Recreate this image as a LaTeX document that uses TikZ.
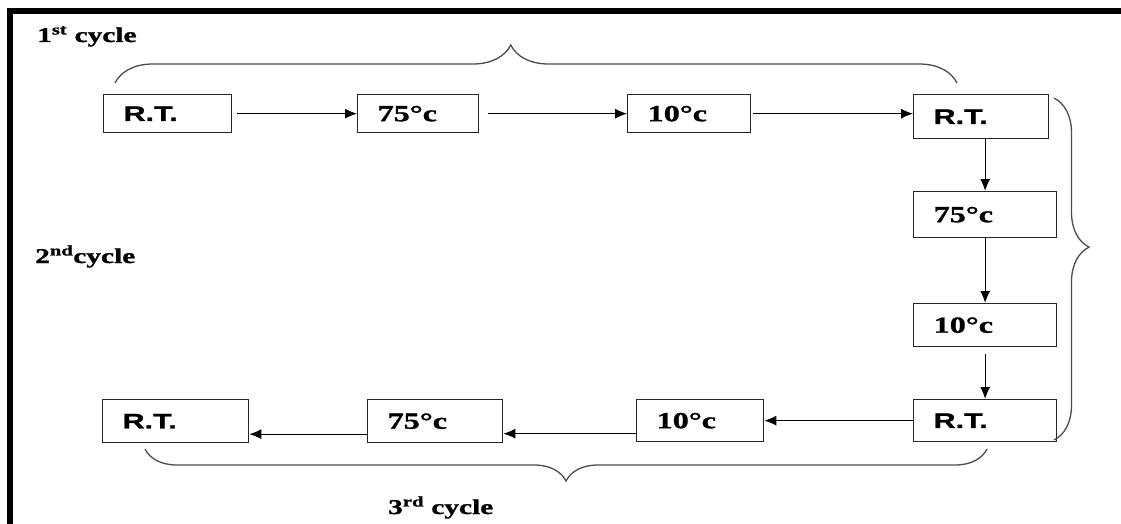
\documentclass[tikz,border=0pt]{standalone}
\usepackage{fontspec}
\setmainfont{Liberation Serif}[FakeStretch=1.4, BoldFeatures={FakeBold=1.2}]
\newfontfamily\rtfont{Liberation Sans}[FakeStretch=1.45, BoldFeatures={FakeBold=1.2}]
\usepackage{tikz}
\usetikzlibrary{arrows.meta,decorations.pathreplacing}
\newcommand\RT{R.T.}
\newcommand\hotT{75°c}
\newcommand\coldT{10°c}

\begin{document}
\begin{tikzpicture}[x=1pt, y=-1pt,
    stepbox/.style={draw=black!85, line width=1.3pt, anchor=north west,
      inner xsep=20pt, inner ysep=0pt, align=left,
      font=\fontsize{23}{26}\selectfont\bfseries},
    rtbox/.style={stepbox, font=\rtfont\fontsize{21}{24}\selectfont\bfseries},
    cyclelabel/.style={anchor=base west, inner sep=0pt,
      font=\fontsize{21}{24}\selectfont\bfseries},
    bracket/.style={decorate, draw=black!70, line width=1.3pt}]
    \useasboundingbox (0,0) rectangle (1121,524);
    \draw[line width=6pt] (10,524) -- (10,11) -- (1121,11);
    % first cycle
    \node[rtbox, text width=88pt, minimum height=38pt] (rt1) at (103,94) {\RT};
    \node[stepbox, text width=81pt, minimum height=38pt] (hot1) at (357,94) {\hotT};
    \node[stepbox, text width=83pt, minimum height=38pt] (cold1) at (627,94) {\coldT};
    \node[rtbox, text width=95pt, minimum height=44pt] (rt2) at (913,94) {\RT};
    % second cycle
    \node[stepbox, text width=103pt, minimum height=46pt] (hot2) at (913,191) {\hotT};
    \node[stepbox, text width=103pt, minimum height=43pt] (cold2) at (913,303) {\coldT};
    \node[rtbox, text width=103pt, minimum height=42pt] (rt3) at (913,399) {\RT};
    % third cycle
    \node[stepbox, text width=87pt, minimum height=42pt] (cold3) at (636,399) {\coldT};
    \node[stepbox, text width=95pt, minimum height=43pt] (hot3) at (367,399) {\hotT};
    \node[rtbox, text width=106pt, minimum height=43pt] (rt4) at (102,399) {\RT};
    % labels
    \node[cyclelabel] (lab1) at (37,42) {1\textsuperscript{st} cycle};
    \node[cyclelabel] (lab2) at (35,263) {2\textsuperscript{nd}cycle};
    \node[cyclelabel] (lab3) at (388,514) {3\textsuperscript{rd} cycle};
    \begin{scope}[-{Latex[length=12pt,width=10pt]}, line width=1.1pt]
      \draw[shorten <=5pt] (rt1) -- (hot1) ;
      \draw[shorten <=9pt] (hot1) -- (cold1) ;
      \draw[shorten <=2pt] (cold1.east) -- (cold1.east -| rt2.west) ;
      \draw (rt2.south -| hot2.north) -- (hot2.north) ;
      \draw (hot2) -- (cold2) ;
      \draw[shorten <=7pt] (cold2) -- (rt3) ;
      \draw (rt3.west) -- (rt3.west -| cold3.east) ;
      \draw ([yshift=-13pt]cold3.west) -- ([yshift=-13pt]cold3.west -| hot3.east) ;
      \draw ([yshift=-13pt]hot3.west) -- ([yshift=-13pt]hot3.west -| rt4.east) ;
    \end{scope}
    \draw[bracket, decoration={brace, amplitude=38pt, aspect=0.47}] (115,83) -- (957,83);
    \draw[bracket, decoration={brace, amplitude=35pt, aspect=0.436}] (1054,98) -- (1054,440);
    \draw[bracket, decoration={brace, amplitude=32pt, aspect=0.5}] (987,449) -- (145,449);
\end{tikzpicture}
\end{document}
